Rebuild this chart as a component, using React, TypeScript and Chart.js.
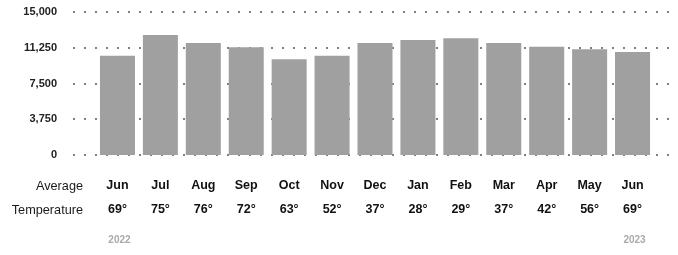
import React, { useEffect, useRef } from "react";
import { Chart, registerables } from "chart.js";

Chart.register(...registerables);

const months = ["Jun", "Jul", "Aug", "Sep", "Oct", "Nov", "Dec", "Jan", "Feb", "Mar", "Apr", "May", "Jun"];
const temps = ["69°", "75°", "76°", "72°", "63°", "52°", "37°", "28°", "29°", "37°", "42°", "56°", "69°"];
const values = [10400, 12600, 11750, 11300, 10050, 10400, 11750, 12050, 12250, 11750, 11350, 11100, 10800];
const years = ["2022", "", "", "", "", "", "", "", "", "", "", "", "2023"];
const rowTitles = ["Average", "Temperature"];
const yTicks = [0, 3750, 7500, 11250, 15000];

const FONT = "'Liberation Sans', Arial, sans-serif";

const extrasPlugin = {
  id: "extras",
  beforeDatasetsDraw(chart: any) {
    const { ctx, scales } = chart;
    const y = scales.y;
    ctx.save();
    ctx.strokeStyle = "#808080";
    ctx.lineWidth = 2;
    ctx.setLineDash([2, 9]);
    y.ticks.forEach((t: any) => {
      const py = Math.round(y.getPixelForValue(t.value));
      ctx.beginPath();
      ctx.moveTo(73, py);
      ctx.lineTo(670, py);
      ctx.stroke();
    });
    ctx.restore();
  },
  afterDraw(chart: any) {
    const { ctx, scales, chartArea } = chart;
    const x = scales.x;
    ctx.save();
    ctx.font = `12.7px ${FONT}`;
    ctx.fillStyle = "#1a1a1a";
    ctx.textAlign = "right";
    ctx.textBaseline = "middle";
    rowTitles.forEach((t, i) => {
      ctx.fillText(t, 83, chartArea.bottom + 31 + i * 24);
    });
    ctx.font = `bold 10px ${FONT}`;
    ctx.fillStyle = "#aaaaaa";
    ctx.textAlign = "center";
    years.forEach((yr, i) => {
      if (yr) ctx.fillText(yr, x.getPixelForValue(i) + 2, chartArea.bottom + 85);
    });
    ctx.restore();
  },
};

export default function App() {
  const ref = useRef<HTMLCanvasElement>(null);
  useEffect(() => {
    document.body.style.margin = "0";
    const chart = new Chart(ref.current!, {
      type: "bar",
      data: {
        labels: months.map((m, i) => [m, temps[i]]),
        datasets: [
          {
            data: values,
            backgroundColor: "#a0a0a0",
            borderWidth: 0,
            categoryPercentage: 1,
            barPercentage: 0.816,
          },
        ],
      },
      options: {
        animation: false,
        responsive: false,
        layout: { autoPadding: false, padding: { top: 12, right: 24, left: 0, bottom: 0 } },
        plugins: { legend: { display: false }, tooltip: { enabled: false } },
        scales: {
          x: {
            grid: { display: false, drawTicks: false },
            border: { display: false },
            ticks: {
              color: "#111",
              font: { family: FONT, size: 12.5, weight: "bold", lineHeight: 1.92 },
              padding: 19,
              maxRotation: 0,
              autoSkip: false,
            },
            afterFit: (s: any) => {
              s.height = 100;
            },
          },
          y: {
            min: 0,
            max: 15000,
            afterBuildTicks: (s: any) => {
              s.ticks = yTicks.map((v) => ({ value: v }));
            },
            grid: { display: false, drawTicks: false },
            border: { display: false },
            ticks: {
              color: "#222",
              font: { family: FONT, size: 11, weight: "bold" },
              padding: 39,
              callback: (v: any) => Number(v).toLocaleString("en-US"),
            },
            afterFit: (s: any) => {
              s.width = 96;
              s.paddingTop = 0;
              s.paddingBottom = 0;
            },
          },
        },
      },
      plugins: [extrasPlugin],
    });
    return () => chart.destroy();
  }, []);
  return <canvas ref={ref} width={678} height={255} style={{ display: "block" }} />;
}
